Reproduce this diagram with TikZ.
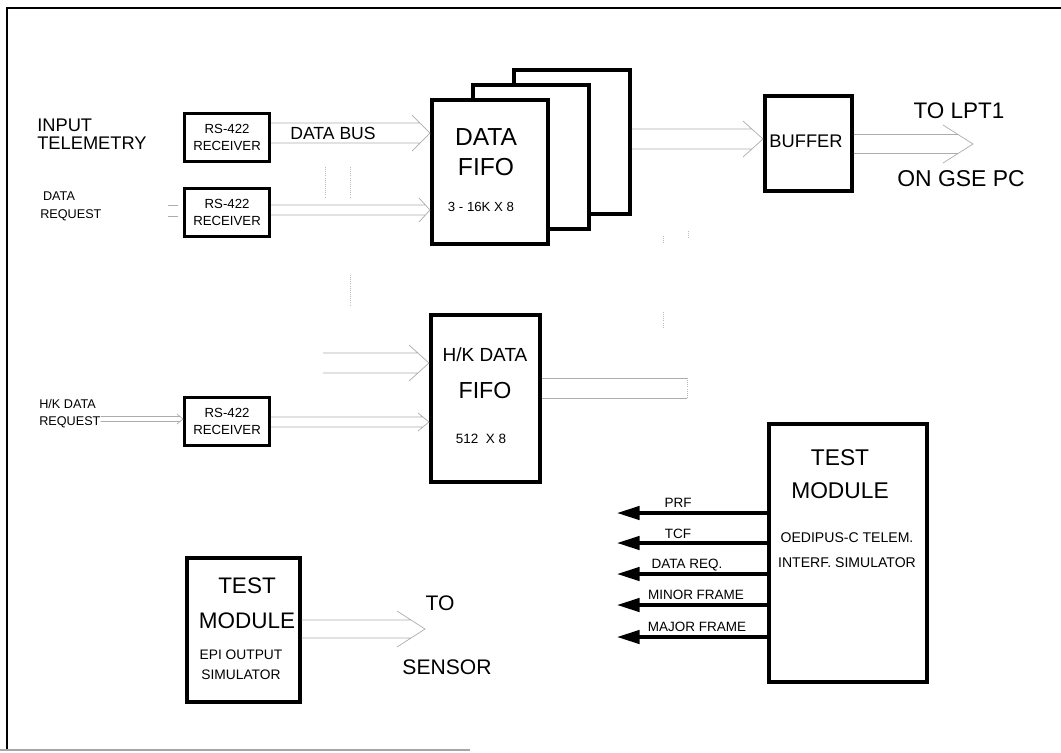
\documentclass[tikz,border=0pt]{standalone}
\usepackage{fontspec}
\setmainfont{Liberation Sans}
\usetikzlibrary{arrows.meta,calc}

\tikzset{
  blk/.style={draw, line width=2.2pt, fill=white, inner sep=0pt, anchor=north west},
  txt/.style={inner sep=0pt, align=center},
  bus/.style={draw=gray!65, line width=0.5pt},
  faint/.style={draw=gray!55, line width=0.5pt, densely dotted},
  sig/.style={line width=2.3pt, -{Triangle[length=16pt,width=9.5pt]}},
}

% start, tip, half gap, half wing, depth
\newcommand{\busline}[5]{%
  \draw[bus] ($(#1)+(0,-#3)$) -- ($(#2)+({-#5*#3/#4},-#3)$)
             ($(#1)+(0,#3)$) -- ($(#2)+({-#5*#3/#4},#3)$)
             ($(#2)+(-#5,-#4)$) -- (#2) -- ($(#2)+(-#5,#4)$);}

\begin{document}
\begin{tikzpicture}[x=0.025cm, y=-0.025cm]
  \useasboundingbox (0,0) rectangle (1061,752);
  % frame
  \draw[line width=1.6pt] (7,750) -- (7,8) -- (1061,8);
  \draw[line width=1pt, gray!70] (0,750) -- (470,750);

  % boxes
  \node[blk, minimum width=2.125cm, minimum height=1.2cm] (rxa) at (183,112) {};
  \node[blk, minimum width=2.125cm, minimum height=1.2cm] (rxb) at (183,187) {};
  \node[blk, minimum width=2.125cm, minimum height=1.2cm] (rxc) at (183,396) {};
  \node[blk, line width=2.8pt, minimum width=2.9cm, minimum height=3.6cm] (fifoc) at (512,68) {};
  \node[blk, line width=2.8pt, minimum width=2.9cm, minimum height=3.6cm] (fifob) at (471,83) {};
  \node[blk, line width=2.8pt, minimum width=2.9cm, minimum height=3.6cm] (fifoa) at (430,98) {};
  \node[blk, line width=2.8pt, minimum width=2.175cm, minimum height=2.375cm] (buf) at (763,94) {};
  \node[blk, line width=2.8pt, minimum width=2.725cm, minimum height=4.175cm] (hkfifo) at (429,313) {};
  \node[blk, line width=2.8pt, minimum width=3.95cm, minimum height=6.45cm] (tmr) at (767,422) {};
  \node[blk, line width=2.6pt, minimum width=2.825cm, minimum height=3.6cm] (tml) at (185,556) {};

  % texts
  \node[txt, anchor=west, align=left, font=\fontsize{13}{12.8}\selectfont] (intel) at (37,134) {INPUT\\TELEMETRY};
  \node[txt, anchor=west, align=left, font=\fontsize{9}{12.8}\selectfont] (dreq) at (40,206) {\hspace{2pt}DATA\\REQUEST};
  \node[txt, anchor=west, align=left, font=\fontsize{9}{12}\selectfont] (hkreq) at (39,414) {H/K DATA\\REQUEST};
  \node[txt, font=\fontsize{9.4}{12}\selectfont] (rxatxt) at (rxa.center) {RS-422\\RECEIVER};
  \node[txt, font=\fontsize{9.4}{12}\selectfont] (rxbtxt) at (rxb.center) {RS-422\\RECEIVER};
  \node[txt, font=\fontsize{9.4}{12}\selectfont] (rxctxt) at (rxc.center) {RS-422\\RECEIVER};
  \node[txt, font=\fontsize{12.5}{14}\selectfont] (dbus) at (333,133) {DATA BUS};
  \node[txt, font=\fontsize{17.5}{21.3}\selectfont] (fifoatxt) at (486,152) {DATA\\FIFO};
  \node[txt, font=\fontsize{9.4}{11}\selectfont] (fifosize) at (481,207) {3 - 16K X 8};
  \node[txt, font=\fontsize{13}{15}\selectfont] (buftxt) at (806,141) {BUFFER};
  \node[txt, font=\fontsize{16}{18}\selectfont] (lpt) at (959,111) {TO LPT1};
  \node[txt, font=\fontsize{16.3}{18}\selectfont] (gse) at (961,179) {ON GSE PC};
  \node[txt, font=\fontsize{13.5}{15}\selectfont] (hktxt) at (485,355) {H/K DATA};
  \node[txt, font=\fontsize{16.5}{18}\selectfont] (hkfifotxt) at (485,391) {FIFO};
  \node[txt, font=\fontsize{9.6}{11}\selectfont] (hksize) at (481,439) {512\ \ X 8};
  \node[txt, font=\fontsize{16.2}{23}\selectfont] (tmrtxt) at (840,474) {TEST\\MODULE};
  \node[txt, font=\fontsize{10}{17.7}\selectfont] (tmrsub) at (847,550) {OEDIPUS-C TELEM.\\INTERF. SIMULATOR};
  \node[txt, font=\fontsize{16}{24.8}\selectfont] (tmltxt) at (247,603) {TEST\\MODULE};
  \node[txt, font=\fontsize{9.8}{14}\selectfont] (tmlsub) at (241,665) {EPI OUTPUT\\SIMULATOR};
  \node[txt, font=\fontsize{15}{18}\selectfont] (sens) at (440,603) {TO};
  \node[txt, font=\fontsize{15}{18}\selectfont] (senstxt) at (447,667) {SENSOR};

  % buses
  \coordinate (hkin) at (323,363);
  \coordinate (lptend) at (973,144);
  \coordinate (sensend) at (425,629);
  \busline{rxa.east |- 0,133}{fifoa.west |- 0,133}{10}{18}{18}
  \busline{rxb.east |- 0,210}{fifoa.west |- 0,210}{5}{12}{11}
  \busline{fifoc.east |- 0,139}{buf.west |- 0,139}{10}{18}{20}
  \busline{buf.east |- lptend}{lptend}{9.5}{19}{30}
  \busline{hkin}{hkfifo.west |- hkin}{10}{18}{20}
  \busline{rxc.east |- 0,422}{hkfifo.west |- 0,422}{5}{9}{11}
  \busline{hkreq.east |- 0,419}{rxc.west |- 0,419}{2.5}{5}{6}
  \busline{tml.east |- sensend}{sensend}{9}{18}{28}
  \draw[bus] (168,205) -- (178,205) (168,216) -- (178,216);
  \draw[bus] (hkfifo.east |- 0,378) -- (687,378) (hkfifo.east |- 0,398) -- (687,398);
  \draw[faint] (687,378) -- (687,398);
  \draw[faint] (325,167) -- (325,198) (350,167) -- (350,198) (350,275) -- (350,305);
  \draw[faint] (663,312) -- (663,327) (663,236) -- (663,243) (688,231) -- (688,238);

  % test signals
  \coordinate (prf) at (617,513);
  \coordinate (tcf) at (617,543);
  \coordinate (dreqo) at (617,574);
  \coordinate (minor) at (617,605);
  \coordinate (major) at (617,637);
  \draw[sig] (tmr.west |- prf) -- (prf);
  \draw[sig] (tmr.west |- tcf) -- (tcf);
  \draw[sig] (tmr.west |- dreqo) -- (dreqo);
  \draw[sig] (tmr.west |- minor) -- (minor);
  \draw[sig] (tmr.west |- major) -- (major);
  \node[txt, font=\fontsize{9.6}{10}\selectfont] (prflbl) at (678,503) {PRF};
  \node[txt, font=\fontsize{9.6}{10}\selectfont] (tcflbl) at (678,534) {TCF};
  \node[txt, font=\fontsize{9.6}{10}\selectfont] (dreqlbl) at (687,565) {DATA REQ.};
  \node[txt, font=\fontsize{9.6}{10}\selectfont] (minorlbl) at (696,595) {MINOR FRAME};
  \node[txt, font=\fontsize{9.6}{10}\selectfont] (majorlbl) at (697,627) {MAJOR FRAME};
\end{tikzpicture}
\end{document}
